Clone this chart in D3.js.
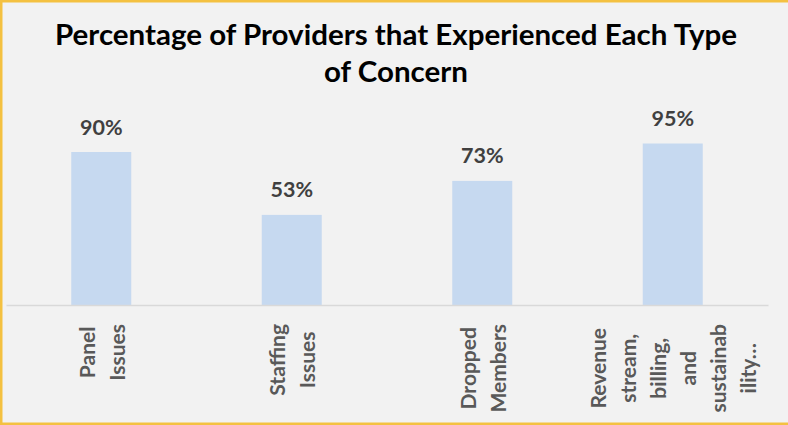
<!DOCTYPE html>
<html>
<head>
<meta charset="utf-8">
<script src="https://cdn.jsdelivr.net/npm/d3@7"></script>
<style>
  html, body { margin: 0; padding: 0; background: #F2F2F2; }
  svg { display: block; }
</style>
</head>
<body>
<svg id="chart" width="788" height="425"></svg>
<script>
// ---- data ----
const titleLines = ["Percentage of Providers that Experienced Each Type", "of Concern"];
const categoryLines = [
  ["Panel", "Issues"],
  ["Staffing", "Issues"],
  ["Dropped", "Members"],
  ["Revenue", "stream,", "billing,", "and", "sustainab", "ility…"]
];
const values = [0.90, 0.53, 0.73, 0.95];

// ---- setup ----
const W = 788, H = 425;
const svg = d3.select("#chart");
const font = "Lato, 'Open Sans', sans-serif";

svg.append("rect").attr("x", 0).attr("y", 0).attr("width", W).attr("height", H).attr("fill", "#F2F2F2");

// border (top, left, bottom)
const border = "#F4C141";
svg.append("rect").attr("x", 0).attr("y", 0).attr("width", W).attr("height", 2.5).attr("fill", border);
svg.append("rect").attr("x", 0).attr("y", 0).attr("width", 2.5).attr("height", H).attr("fill", border);
svg.append("rect").attr("x", 0).attr("y", 422.5).attr("width", W).attr("height", 2.5).attr("fill", border);

// title
const t1 = svg.append("text").attr("x", 396).attr("y", 44.5)
  .attr("text-anchor", "middle").attr("font-family", font).attr("font-weight", 700)
  .attr("font-size", 29).attr("fill", "#000").text(titleLines[0]);
const t2 = svg.append("text").attr("x", 396).attr("y", 82)
  .attr("text-anchor", "middle").attr("font-family", font).attr("font-weight", 700)
  .attr("font-size", 29).attr("fill", "#000").text(titleLines[1]);
const len1 = t1.node().getComputedTextLength();
const factor = 682 / len1;
t1.attr("textLength", 682).attr("lengthAdjust", "spacingAndGlyphs");
t2.attr("textLength", t2.node().getComputedTextLength() * factor).attr("lengthAdjust", "spacingAndGlyphs");

// scales
const x = d3.scaleBand().domain(d3.range(values.length)).range([6, 768])
  .paddingInner(0.685).paddingOuter(0.3425);
const y = d3.scaleLinear().domain([0, 1]).range([305, 135]);

// bars
svg.append("g").selectAll("rect").data(values).join("rect")
  .attr("x", (d, i) => x(i))
  .attr("y", d => y(d))
  .attr("width", x.bandwidth())
  .attr("height", d => y(0) - y(d))
  .attr("fill", "#C6D9F0");

// data labels
const fmt = d3.format(".0%");
svg.append("g").selectAll("text").data(values).join("text")
  .attr("x", (d, i) => x(i) + x.bandwidth() / 2)
  .attr("y", d => y(d) - 17.5)
  .attr("text-anchor", "middle")
  .attr("font-family", font).attr("font-weight", 700).attr("font-size", 21.5)
  .attr("fill", "#404040")
  .text(d => fmt(d));

// axis
const axis = d3.axisBottom(x).tickSize(0).tickSizeOuter(0).tickFormat(() => "");
const gx = svg.append("g").attr("transform", `translate(0,${y(0)})`).call(axis);
gx.select(".domain").attr("stroke", "#D9D9D9").attr("stroke-width", 1.5);
gx.selectAll(".tick text").remove();

const lineGap = 30;
const labelTop = 19;
gx.selectAll(".tick").each(function(d, i) {
  const lines = categoryLines[i];
  const g = d3.select(this);
  const txt = g.append("text")
    .attr("font-family", font).attr("font-weight", 700).attr("font-size", 21)
    .attr("fill", "#595959").attr("text-anchor", "middle");
  const n = lines.length;
  lines.forEach((ln, j) => {
    txt.append("tspan").attr("x", 0)
      .attr("y", (j - (n - 1) / 2) * lineGap + 8.5)
      .text(ln);
  });
  let maxLen = 0;
  txt.selectAll("tspan").each(function() {
    maxLen = Math.max(maxLen, this.getComputedTextLength());
  });
  txt.attr("transform", `translate(0,${labelTop + maxLen / 2}) rotate(-90)`);
});
</script>
</body>
</html>
